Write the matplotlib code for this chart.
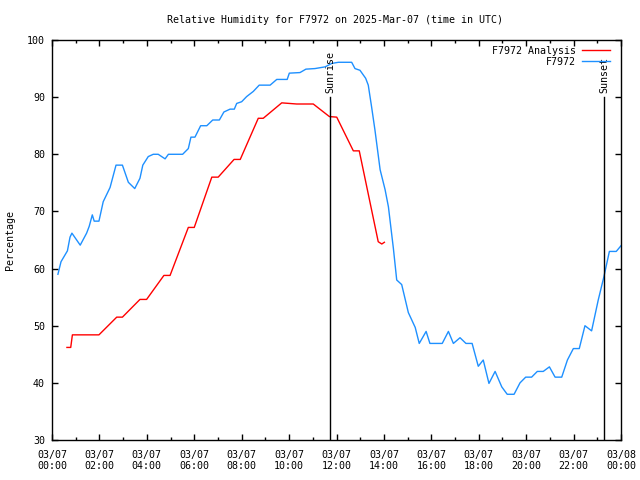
import matplotlib
matplotlib.use("Agg")
import matplotlib.pyplot as plt
from matplotlib.ticker import MultipleLocator

# Data (hours since 03/07 00:00 UTC)
obs_hours = [0.25, 0.38, 0.65, 0.76, 0.84, 1.19, 1.46, 1.57, 1.70, 1.78, 1.98, 2.16, 2.45, 2.70, 2.97,
             3.22, 3.49, 3.71, 3.83, 4.06, 4.27, 4.48, 4.77, 4.91, 5.51, 5.75, 5.86, 6.03, 6.27, 6.53,
             6.78, 7.06, 7.25, 7.51, 7.69, 7.79, 8.00, 8.21, 8.49, 8.74, 9.20, 9.48, 9.92, 10.01, 10.46,
             10.71, 11.09, 11.52, 11.80, 12.08, 12.64, 12.78, 12.99, 13.23, 13.34, 13.48, 13.62, 13.84,
             14.05, 14.19, 14.40, 14.54, 14.75, 15.03, 15.32, 15.49, 15.78, 15.94, 16.46, 16.72, 16.93,
             17.21, 17.46, 17.72, 17.98, 18.19, 18.43, 18.69, 18.97, 19.20, 19.49, 19.74, 19.98, 20.23,
             20.47, 20.72, 20.98, 21.22, 21.50, 21.74, 21.99, 22.24, 22.48, 22.76, 23.04, 23.28, 23.51,
             23.80, 24.0]
obs_rh = [59.0, 61.2, 63.1, 65.5, 66.2, 64.1, 66.2, 67.4, 69.4, 68.3, 68.3, 71.7, 74.2, 78.1, 78.1,
          75.1, 74.0, 75.8, 78.1, 79.6, 80.0, 80.0, 79.2, 80.0, 80.0, 81.0, 83.0, 83.0, 85.0, 85.0,
          86.0, 86.0, 87.4, 87.9, 87.9, 88.9, 89.2, 90.1, 91.0, 92.1, 92.1, 93.1, 93.1, 94.2, 94.3,
          94.9, 95.0, 95.3, 95.9, 96.1, 96.1, 95.0, 94.7, 93.3, 92.1, 88.3, 84.3, 77.3,
          73.8, 70.8, 63.5, 58.0, 57.2, 52.3, 49.7, 46.9, 49.0, 46.9, 46.9, 49.0, 46.9,
          47.9, 46.9, 46.9, 42.9, 44.0, 39.9, 42.0, 39.3, 38.0, 38.0, 40.0, 41.0, 41.0,
          42.0, 42.0, 42.8, 41.0, 41.0, 44.0, 46.0, 46.0, 50.0, 49.1, 54.5, 58.6, 63.0,
          63.0, 64.0]

ana_hours = [0.63, 0.79, 0.86, 1.98, 2.73, 2.97, 3.71, 3.99, 4.72, 4.98, 5.75, 6.00, 6.74, 7.01,
             7.68, 7.94, 8.70, 8.91, 9.69, 10.32, 11.02, 11.70, 12.01, 12.71, 12.96, 13.76, 13.91, 14.02]
ana_rh = [46.2, 46.2, 48.4, 48.4, 51.5, 51.5, 54.6, 54.6, 58.8, 58.8, 67.2, 67.2, 76.0, 76.0,
          79.1, 79.1, 86.3, 86.3, 89.0, 88.8, 88.8, 86.6, 86.5, 80.6, 80.6, 64.7, 64.3, 64.6]

sun_hours = [11.73, 23.29]
sun_labels = ["Sunrise", "Sunset"]

tick_hours = list(range(0, 25, 2))
tick_labels = ["03/07\n%02d:00" % h for h in range(0, 24, 2)] + ["03/08\n00:00"]

font = "DejaVu Sans Mono"
fs = 7.2

fig = plt.figure(figsize=(6.4, 4.8), dpi=100)
ax = fig.add_axes([52/640, 40/480, (621-52)/640, 400/480])

ax.plot(ana_hours, ana_rh, color="#ff0000", lw=1.0, label="F7972 Analysis")
ax.plot(obs_hours, obs_rh, color="#1e90ff", lw=1.0, label="F7972")

for h, lab in zip(sun_hours, sun_labels):
    ax.plot([h, h], [30, 90], color="black", lw=1.0)
    ax.text(h, 90.8, lab, rotation=90, ha="center", va="bottom",
            family=font, fontsize=fs)

ax.set_xlim(0, 24)
ax.set_ylim(30, 100)
ax.set_xticks(tick_hours)
ax.set_xticklabels(tick_labels, family=font, fontsize=fs)
ax.xaxis.set_minor_locator(MultipleLocator(1))
ax.set_yticks(range(30, 101, 10))
ax.set_yticklabels([str(v) for v in range(30, 101, 10)], family=font, fontsize=fs)
ax.tick_params(which="both", direction="in", top=True, right=True, width=1.0)
ax.tick_params(which="major", length=4)
ax.tick_params(axis="x", which="major", pad=7)
ax.tick_params(axis="y", which="major", pad=5)
ax.tick_params(which="minor", length=2)
for s in ax.spines.values():
    s.set_linewidth(1.0)

ax.set_ylabel("Percentage", family=font, fontsize=fs, labelpad=9)
fig.text(335/640, 1 - 20/480, "Relative Humidity for F7972 on 2025-Mar-07 (time in UTC)",
         ha="center", va="center", family=font, fontsize=fs)

leg = ax.legend(loc="upper right", bbox_to_anchor=(0.991, 1.0), frameon=False, markerfirst=False,
                prop={"family": font, "size": fs}, handlelength=2.8,
                borderaxespad=0.2, labelspacing=0.1, handletextpad=0.6)
for t in leg.get_texts():
    t.set_ha("right")

fig.savefig("out.png", dpi=100)
